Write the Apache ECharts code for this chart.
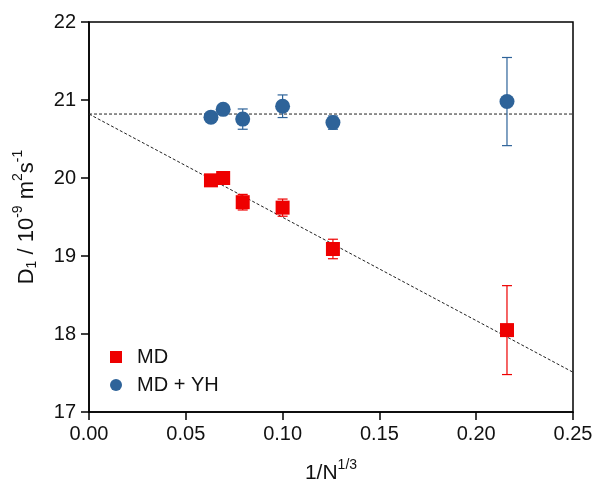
<!DOCTYPE html>
<html><head><meta charset="utf-8">
<script src="https://cdn.jsdelivr.net/npm/echarts@6/dist/echarts.min.js"></script>
<style>html,body{margin:0;padding:0;background:#fff}#c{width:596px;height:479px}</style>
</head><body><div id="c"></div>
<script>
var xValues = [0.063, 0.0693, 0.0794, 0.1, 0.126, 0.2159];
var mdValues = [19.97, 20.0, 19.69, 19.62, 19.09, 18.05];
var mdErrors = [0.04, 0.04, 0.1, 0.11, 0.125, 0.57];
var yhValues = [20.78, 20.88, 20.755, 20.92, 20.71, 20.98];
var yhErrors = [0.03, 0.03, 0.13, 0.145, 0.085, 0.565];
var flatLineX = [0, 0.25];
var flatLineY = [20.82, 20.82];
var slopeLineX = [0, 0.25];
var slopeLineY = [20.82, 17.51];
var xTicks = [0, 0.05, 0.1, 0.15, 0.2, 0.25];
var yTicks = [17, 18, 19, 20, 21, 22];

var FONT = 'Liberation Sans';
var GL = 89, GT = 22, GR = 23, GB = 67;
function pairs(xs, ys){ return xs.map(function(x,i){return [x, ys[i]];}); }
function errData(xs, ys, es){ return xs.map(function(x,i){return [x, ys[i]-es[i], ys[i]+es[i]];}); }
function errSeries(name, data, color){
  return {
    type:'custom', name:name, data:data, z:3, silent:true,
    renderItem:function(params, api){
      var x = api.value(0);
      var lo = api.coord([x, api.value(1)]);
      var hi = api.coord([x, api.value(2)]);
      var w = 5;
      var st = {stroke:color, lineWidth:1.2};
      return {type:'group', children:[
        {type:'line', shape:{x1:lo[0], y1:lo[1], x2:hi[0], y2:hi[1]}, style:st},
        {type:'line', shape:{x1:lo[0]-w, y1:lo[1], x2:lo[0]+w, y2:lo[1]}, style:st},
        {type:'line', shape:{x1:hi[0]-w, y1:hi[1], x2:hi[0]+w, y2:hi[1]}, style:st}
      ]};
    }
  };
}
var RED = '#ee0000', BLUE = '#2e6399';
var chart = echarts.init(document.getElementById('c'), null, {renderer:'canvas'});
chart.setOption({
  animation:false,
  backgroundColor:'#fff',
  textStyle:{fontFamily:FONT},
  grid:{left:GL, right:GR, top:GT, bottom:GB, containLabel:false, outerBoundsMode:'none'},
  legend:{
    left:105, top:342, orient:'vertical', itemGap:8, itemWidth:12, itemHeight:12,
    textStyle:{fontFamily:FONT, fontSize:20, lineHeight:20, color:'#111', padding:[0,0,0,10]},
    data:[{name:'MD', icon:'rect', itemStyle:{color:RED}}, {name:'MD + YH', icon:'circle', itemStyle:{color:BLUE}}]
  },
  xAxis:{
    type:'value', min:0, max:0.25, interval:0.05,
    name:'{a|1/N}{s|1/3}', nameLocation:'middle', nameGap:44,
    nameTextStyle:{rich:{a:{fontFamily:FONT, fontSize:21, color:'#111', padding:[7,0,0,0]}, s:{fontFamily:FONT, fontSize:14, color:'#111', padding:[0,0,10,0]}}},
    axisLine:{show:true, lineStyle:{color:'#000', width:1.5}},
    axisTick:{show:true, inside:false, length:8, lineStyle:{color:'#000', width:1.5}},
    axisLabel:{fontFamily:FONT, fontSize:20, color:'#111', margin:12, formatter:function(v){return v.toFixed(2);}},
    splitLine:{show:false}
  },
  yAxis:{
    type:'value', min:17, max:22, interval:1,
    name:'{a|D}{b|1}{a| / 10}{s|-9}{a| m}{s|2}{a|s}{s|-1}', nameLocation:'middle', nameGap:50, nameRotate:90,
    nameTextStyle:{rich:{
      a:{fontFamily:FONT, fontSize:22, color:'#111', padding:[7,0,0,0]},
      b:{fontFamily:FONT, fontSize:14, color:'#111', padding:[18,0,0,0]},
      s:{fontFamily:FONT, fontSize:14, color:'#111', padding:[0,0,10,0]}
    }},
    axisLine:{show:true, lineStyle:{color:'#000', width:1.5}},
    axisTick:{show:true, inside:false, length:8, lineStyle:{color:'#000', width:1.5}},
    axisLabel:{fontFamily:FONT, fontSize:20, color:'#111', margin:13},
    splitLine:{show:false}
  },
  graphic:[{type:'rect', silent:true, z:0,
    shape:{x:GL, y:GT, width:596-GL-GR, height:479-GT-GB},
    style:{fill:'none', stroke:'#000', lineWidth:1.5}}],
  series:[
    {type:'line', data:pairs(flatLineX, flatLineY), symbol:'none', silent:true, z:1,
     lineStyle:{color:'#222', width:1, type:[3,2]}},
    {type:'line', data:pairs(slopeLineX, slopeLineY), symbol:'none', silent:true, z:1,
     lineStyle:{color:'#222', width:1, type:[3,2]}},
    errSeries('MD', errData(xValues, mdValues, mdErrors), RED),
    errSeries('MD + YH', errData(xValues, yhValues, yhErrors), BLUE),
    {type:'scatter', name:'MD', data:pairs(xValues, mdValues), symbol:'rect', symbolSize:14, z:4,
     itemStyle:{color:RED, opacity:1}},
    {type:'scatter', name:'MD + YH', data:pairs(xValues, yhValues), symbol:'circle', symbolSize:15, z:4,
     itemStyle:{color:BLUE, opacity:1}}
  ]
});
</script></body></html>
